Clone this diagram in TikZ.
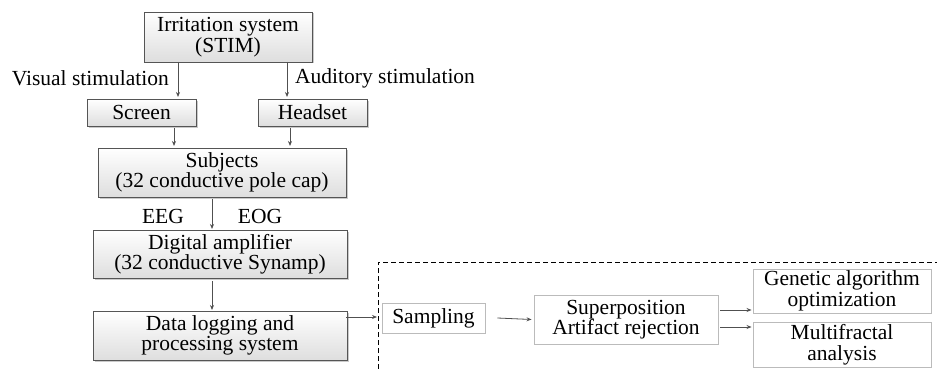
\documentclass[tikz,border=0pt]{standalone}
\usepackage{fontspec}
\setmainfont{Liberation Serif}
\usetikzlibrary{arrows.meta,shadows}
\definecolor{edgedark}{HTML}{555555}
\definecolor{edgelight}{HTML}{BBBBBB}
\definecolor{arrowgray}{HTML}{505050}
\tikzset{
  lbox/.style={draw=edgedark, line width=0.9pt, top color=white, bottom color=black!13,
    drop shadow={shadow xshift=1.5pt, shadow yshift=-1.5pt, fill=black!35, opacity=0.6},
    align=center, inner sep=0pt, font=\fontsize{21.5}{20.5}\selectfont},
  rbox/.style={draw=edgelight, line width=0.9pt, fill=white,
    align=center, inner sep=0pt, font=\fontsize{21.5}{20.5}\selectfont},
  lbl/.style={inner sep=0pt, font=\fontsize{21.5}{20.5}\selectfont},
  arr/.style={draw=arrowgray, line width=0.8pt, -{Stealth[length=5pt,width=4pt]}},
}
\begin{document}
\begin{tikzpicture}[x=1pt,y=-1pt]
\useasboundingbox (0,0) rectangle (937,369);
% left column
\node[lbox, minimum width=168pt, minimum height=50pt] (stim) at (228,37) {Irritation system\\(STIM)};
\node[lbox, minimum width=109pt, minimum height=27pt] (screen) at (141.5,112.5) {Screen};
\node[lbox, minimum width=109pt, minimum height=27pt] (headset) at (312.5,112.5) {Headset};
\node[lbox, minimum width=248pt, minimum height=49pt] (subj) at (222,172.5) {Subjects\\(32 conductive pole cap)};
\node[lbox, minimum width=254pt, minimum height=48pt] (amp) at (220,254) {Digital amplifier\\(32 conductive Synamp)};
\node[lbox, minimum width=254pt, minimum height=49pt] (data) at (220,335.5) {Data logging and\\processing system};
% labels
\node[lbl, anchor=east] (vis) at (169,78) {Visual stimulation};
\node[lbl, anchor=west] (aud) at (295,78) {Auditory stimulation};
\node[lbl] (eeg) at (163,216) {EEG};
\node[lbl] (eog) at (260,216) {EOG};
% coordinates for arrows
\coordinate (s1) at (178,62);
\coordinate (e1) at (178,97);
\coordinate (s2) at (287,62);
\coordinate (e2) at (287,97);
\coordinate (s3) at (174,128);
\coordinate (e3) at (174,146);
\coordinate (s4) at (290,128);
\coordinate (e4) at (290,146);
\coordinate (s5) at (212,199);
\coordinate (e5) at (212,229);
\coordinate (s6) at (212,281);
\coordinate (e6) at (212,310);
\draw[arr] (s1) -- (e1);
\draw[arr] (s2) -- (e2);
\draw[arr] (s3) -- (e3);
\draw[arr] (s4) -- (e4);
\draw[arr] (s5) -- (e5);
\draw[arr] (s6) -- (e6);
% dashed region
\coordinate (dbl) at (378,369);
\coordinate (dtl) at (378,262);
\coordinate (dtr) at (937,262);
\draw[black, line width=0.9pt, dash pattern=on 5pt off 3pt] (dbl) -- (dtl) -- (dtr);
% right nodes
\node[rbox, minimum width=103pt, minimum height=30pt] (samp) at (433.5,318) {Sampling};
\node[rbox, minimum width=184pt, minimum height=49pt] (sup) at (626,319.5) {Superposition\\Artifact rejection};
\node[rbox, minimum width=178pt, minimum height=44pt] (gen) at (842,291) {Genetic algorithm\\optimization};
\node[rbox, minimum width=178pt, minimum height=45pt] (mul) at (842,344.5) {Multifractal\\analysis};
% right arrows
\coordinate (dataout) at (346,317);
\coordinate (dashin) at (377,317);
\draw[arr] (dataout) -- (dashin);
\draw[arr] ([xshift=12pt]samp.east) -- ([xshift=-2pt]sup.west);
\draw[arr] ([xshift=2pt]sup.east |- 0,310) -- ([xshift=-1pt]gen.west |- 0,310);
\draw[arr] ([xshift=2pt]sup.east |- 0,327) -- ([xshift=-1pt]mul.west |- 0,327);
\end{tikzpicture}
\end{document}
